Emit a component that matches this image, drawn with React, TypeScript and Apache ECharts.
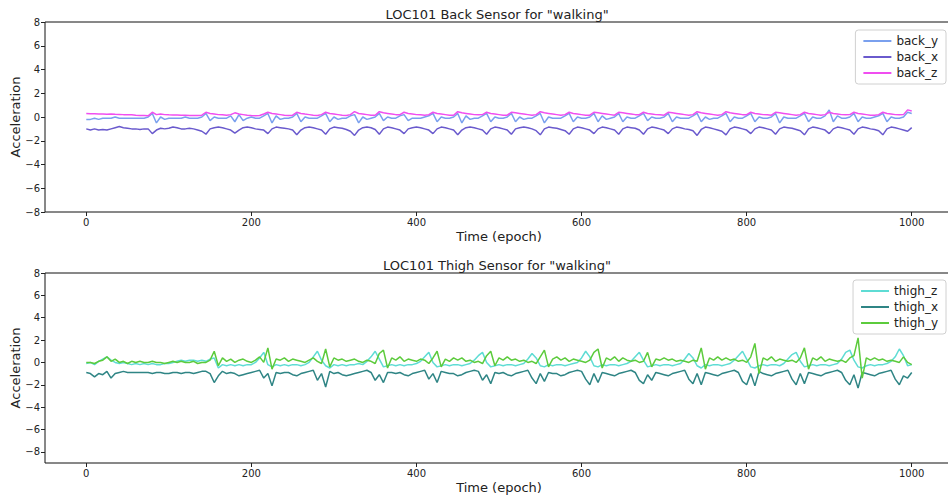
import React, { useEffect, useRef } from "react";
import * as echarts from "echarts";

const STEP = 5; // epochs between samples

const backY = [
  -0.2,-0.2,-0.1,-0.2,-0.1,-0.1,-0.1,0.0,-0.1,-0.1,-0.1,-0.1,-0.1,-0.1,-0.1,0.0,0.3,-0.5,0.0,-0.2,
  -0.1,-0.1,-0.1,-0.1,0.0,-0.1,-0.1,-0.1,0.0,0.3,-0.3,0.0,-0.1,-0.1,-0.1,0.1,-0.4,0.2,-0.3,-0.1,
  0.0,-0.1,-0.1,0.1,0.3,-0.5,0.1,-0.2,-0.1,-0.1,0.0,0.3,-0.4,0.0,-0.1,-0.1,-0.1,0.1,0.3,-0.4,
  0.0,-0.2,-0.1,-0.1,0.1,0.2,-0.5,0.0,-0.2,-0.1,0.0,0.3,-0.3,0.0,-0.1,-0.1,0.1,0.2,-0.3,-0.1,
  -0.1,-0.1,0.0,0.1,0.3,-0.4,0.0,-0.1,-0.1,0.0,0.3,-0.5,0.1,-0.2,-0.1,-0.1,0.1,0.3,-0.4,0.0,
  -0.1,-0.1,0.0,0.3,-0.4,0.0,-0.2,-0.1,-0.1,0.1,0.3,-0.5,0.0,-0.1,-0.1,-0.1,0.1,0.3,-0.4,0.0,
  -0.1,-0.1,0.0,0.3,-0.4,0.1,-0.2,-0.1,0.0,0.3,-0.4,0.0,-0.1,-0.1,0.1,0.3,-0.3,0.0,-0.1,-0.1,
  0.0,0.3,-0.4,0.0,-0.1,-0.1,-0.1,0.1,0.3,-0.4,0.0,-0.2,-0.1,-0.1,0.1,0.3,-0.4,0.0,-0.1,-0.1,
  0.1,0.3,-0.4,0.0,-0.1,-0.1,0.0,0.3,-0.5,0.0,-0.1,-0.1,-0.1,0.1,0.3,-0.4,0.0,-0.1,-0.1,0.1,
  0.6,-0.4,0.1,-0.1,-0.1,0.0,0.3,-0.4,0.0,-0.1,-0.1,0.0,0.1,0.3,-0.4,0.0,-0.1,-0.1,0.0,0.4,
  0.3,
];

const backX = [
  -1.0,-1.1,-1.0,-1.1,-1.05,-1.1,-1.0,-0.9,-0.8,-0.9,-0.95,-1.0,-1.0,-1.05,-1.0,-1.0,-1.4,-1.1,-0.95,-1.0,
  -0.95,-0.85,-0.9,-1.0,-1.0,-0.95,-1.0,-1.1,-1.2,-1.45,-1.0,-0.9,-0.85,-0.9,-1.0,-1.1,-1.35,-1.1,-0.9,-0.85,
  -0.9,-1.0,-1.05,-1.1,-1.4,-1.0,-0.85,-0.9,-0.95,-1.0,-1.1,-1.5,-1.1,-0.9,-0.85,-0.9,-1.0,-1.1,-1.45,-1.0,
  -0.85,-0.9,-0.95,-1.05,-1.2,-1.55,-1.1,-0.9,-0.85,-0.9,-1.05,-1.45,-1.0,-0.85,-0.9,-1.0,-1.1,-1.4,-1.0,-0.9,
  -0.85,-0.9,-1.0,-1.1,-1.4,-1.0,-0.85,-0.9,-1.0,-1.1,-1.5,-1.1,-0.9,-0.85,-0.9,-1.0,-1.1,-1.45,-1.0,-0.85,
  -0.9,-1.0,-1.1,-1.45,-1.0,-0.9,-0.85,-0.9,-1.0,-1.15,-1.5,-1.0,-0.85,-0.9,-0.95,-1.05,-1.15,-1.45,-1.0,-0.85,
  -0.9,-1.0,-1.1,-1.4,-1.0,-0.85,-0.9,-1.0,-1.1,-1.45,-1.0,-0.85,-0.9,-0.95,-1.1,-1.45,-1.0,-0.85,-0.9,-1.0,
  -1.1,-1.4,-1.0,-0.85,-0.9,-1.0,-1.05,-1.15,-1.55,-1.05,-0.85,-0.9,-1.0,-1.1,-1.2,-1.5,-1.0,-0.85,-0.9,-1.0,
  -1.1,-1.4,-1.0,-0.85,-0.9,-1.0,-1.1,-1.45,-1.0,-0.85,-0.9,-0.95,-1.05,-1.15,-1.5,-1.0,-0.85,-0.9,-1.0,-1.1,
  -1.4,-1.0,-0.85,-0.9,-1.0,-1.1,-1.45,-1.0,-0.85,-0.9,-1.0,-1.05,-1.15,-1.5,-1.0,-0.85,-0.9,-1.0,-1.1,-1.2,
  -0.9,
];

const backZ = [
  0.3,0.28,0.27,0.26,0.25,0.24,0.25,0.23,0.22,0.2,0.2,0.18,0.15,0.13,0.12,0.1,0.4,0.2,0.25,0.2,
  0.18,0.17,0.16,0.15,0.14,0.13,0.12,0.12,0.15,0.4,0.3,0.25,0.2,0.18,0.15,0.2,0.35,0.25,0.2,0.15,
  0.12,0.1,0.12,0.25,0.4,0.3,0.25,0.2,0.15,0.12,0.15,0.4,0.3,0.25,0.2,0.15,0.12,0.2,0.4,0.3,
  0.25,0.2,0.15,0.13,0.2,0.45,0.3,0.25,0.2,0.15,0.15,0.45,0.35,0.3,0.25,0.2,0.2,0.4,0.3,0.25,
  0.2,0.18,0.15,0.2,0.4,0.3,0.25,0.2,0.15,0.15,0.45,0.35,0.3,0.25,0.2,0.18,0.2,0.4,0.3,0.25,
  0.2,0.15,0.15,0.4,0.35,0.3,0.25,0.2,0.15,0.2,0.45,0.35,0.3,0.25,0.2,0.15,0.2,0.4,0.3,0.25,
  0.2,0.15,0.15,0.4,0.35,0.3,0.25,0.2,0.15,0.4,0.35,0.3,0.25,0.2,0.2,0.4,0.3,0.25,0.2,0.18,
  0.15,0.4,0.35,0.3,0.25,0.2,0.15,0.2,0.45,0.35,0.3,0.25,0.2,0.15,0.2,0.45,0.35,0.3,0.25,0.2,
  0.2,0.4,0.3,0.25,0.2,0.18,0.15,0.4,0.35,0.3,0.25,0.2,0.15,0.2,0.4,0.3,0.25,0.2,0.15,0.2,
  0.4,0.3,0.25,0.2,0.18,0.2,0.4,0.3,0.25,0.2,0.15,0.15,0.2,0.4,0.3,0.25,0.2,0.18,0.2,0.6,
  0.5,
];

const thighZ = [
  -0.1,0.0,-0.2,0.1,0.3,0.5,0.2,0.0,-0.1,0.0,-0.1,-0.2,-0.1,-0.2,-0.1,-0.2,-0.1,-0.2,-0.2,-0.1,
  -0.1,0.0,0.1,0.2,0.1,0.2,0.2,0.1,0.2,0.1,0.3,0.4,-0.5,-0.2,-0.3,-0.2,-0.3,-0.2,-0.3,-0.2,
  -0.2,0.0,0.4,0.9,-0.2,-0.4,-0.2,-0.3,-0.2,-0.3,-0.2,-0.2,-0.3,-0.2,0.0,0.5,1.0,0.2,-0.3,-0.5,
  -0.2,-0.3,-0.2,-0.3,-0.2,-0.2,-0.1,-0.2,0.1,0.5,1.0,0.3,-0.4,-0.3,-0.2,-0.3,-0.2,-0.3,-0.2,-0.2,
  -0.1,0.1,0.5,0.9,0.0,-0.4,-0.3,-0.2,-0.3,-0.2,-0.2,-0.3,-0.2,-0.1,0.2,0.6,0.9,0.0,-0.4,-0.3,
  -0.2,-0.3,-0.2,-0.2,-0.3,-0.2,-0.1,0.3,0.8,0.4,-0.3,-0.4,-0.2,-0.3,-0.2,-0.2,-0.3,-0.2,-0.1,0.0,
  0.4,1.0,0.5,-0.3,-0.4,-0.2,-0.3,-0.2,-0.2,-0.3,-0.2,-0.1,0.1,0.5,0.9,0.2,-0.4,-0.3,-0.2,-0.3,
  -0.2,-0.2,-0.3,-0.2,-0.1,0.3,0.8,0.4,-0.3,-0.5,-0.2,-0.3,-0.2,-0.2,-0.3,-0.2,-0.1,0.2,0.6,1.0,
  0.3,-0.4,-0.5,-0.3,-0.2,-0.3,-0.2,-0.2,-0.3,-0.1,0.3,0.7,0.9,0.1,-0.4,-0.3,-0.2,-0.3,-0.2,-0.2,
  -0.3,-0.2,-0.1,0.3,0.9,1.1,0.2,-0.4,-0.5,-0.3,-0.2,-0.3,-0.2,-0.2,-0.1,0.1,0.5,1.2,0.6,-0.3,
  -0.2,
];

const thighX = [
  -0.9,-1.0,-1.3,-1.0,-1.1,-0.8,-1.4,-1.0,-0.9,-0.8,-0.9,-0.9,-0.9,-0.9,-0.9,-0.9,-1.0,-0.9,-0.9,-1.0,
  -1.0,-0.9,-0.9,-1.0,-0.9,-0.9,-1.0,-0.9,-0.8,-0.8,-1.0,-1.8,-1.2,-0.8,-1.0,-0.9,-1.0,-1.2,-1.1,-1.0,
  -0.9,-0.8,-0.7,-1.4,-1.0,-2.1,-0.9,-1.0,-0.9,-0.9,-1.1,-1.2,-1.0,-0.9,-0.8,-0.7,-1.6,-1.0,-2.2,-0.8,
  -1.0,-0.9,-1.1,-1.2,-1.1,-1.0,-0.9,-0.8,-0.7,-0.9,-1.6,-1.1,-1.8,-0.9,-0.9,-1.0,-0.9,-1.1,-1.2,-1.0,
  -0.9,-0.8,-0.7,-1.5,-1.0,-1.8,-0.8,-0.9,-1.0,-1.0,-1.2,-1.1,-0.9,-0.8,-0.7,-0.8,-1.6,-1.1,-1.9,-0.9,
  -1.0,-0.9,-1.1,-1.2,-1.0,-0.9,-0.8,-0.7,-1.4,-1.9,-1.0,-1.7,-0.9,-1.0,-1.0,-1.2,-1.1,-0.9,-0.8,-0.7,
  -0.8,-1.5,-2.0,-1.0,-1.8,-0.9,-1.0,-1.1,-1.2,-1.0,-0.9,-0.8,-0.7,-0.9,-1.6,-1.9,-1.1,-1.6,-0.9,-1.0,
  -1.1,-1.2,-1.0,-0.9,-0.8,-0.7,-1.5,-1.9,-1.0,-2.0,-0.9,-1.0,-1.1,-1.2,-1.0,-0.9,-0.8,-0.7,-0.9,-1.7,
  -2.0,-1.0,-2.1,-0.8,-1.0,-1.1,-1.2,-1.0,-0.9,-0.8,-0.7,-1.5,-2.0,-1.0,-1.9,-0.9,-1.0,-1.1,-1.2,-1.0,
  -0.9,-0.8,-0.7,-0.9,-1.6,-2.0,-1.1,-2.3,-0.9,-1.0,-1.1,-1.2,-1.0,-0.9,-0.8,-0.7,-1.5,-2.0,-1.2,-1.4,
  -0.9,
];

const thighY = [
  0.0,0.0,-0.1,0.1,0.2,0.5,0.1,0.3,0.0,0.1,-0.1,0.1,0.0,0.1,0.0,0.0,0.1,0.0,0.0,-0.1,
  0.0,0.1,0.0,0.1,0.0,0.0,0.1,-0.1,0.0,0.0,0.2,1.0,-0.3,0.4,0.1,0.3,0.0,0.2,0.3,0.1,
  0.0,0.2,0.5,0.0,1.3,-0.6,0.3,0.2,0.4,0.1,0.3,0.2,0.1,0.0,0.2,0.4,0.1,-0.1,1.2,-0.4,
  0.4,0.2,0.3,0.1,0.2,0.3,0.1,0.0,0.2,0.1,-0.1,0.8,1.1,-0.5,0.4,0.2,0.5,0.1,0.3,0.2,
  0.1,0.3,0.2,-0.1,0.4,1.0,-0.4,0.3,0.1,0.4,0.2,0.4,0.1,0.2,0.0,0.1,-0.1,0.6,1.0,-0.3,
  0.4,0.2,0.5,0.2,0.3,0.1,0.2,0.0,0.1,-0.1,0.5,1.1,-0.4,0.3,0.5,0.2,0.4,0.1,0.3,0.2,
  0.1,0.0,0.2,0.9,1.2,-0.5,0.4,0.2,0.5,0.1,0.4,0.2,0.1,0.2,0.0,0.1,0.9,-0.4,0.3,0.2,
  0.4,0.2,0.3,0.1,0.2,0.1,0.0,0.2,0.1,1.3,-0.6,0.4,0.2,0.5,0.2,0.4,0.2,0.3,0.1,0.2,
  0.0,0.5,1.7,-1.0,0.4,0.2,0.5,0.1,0.3,0.2,0.1,0.2,0.0,0.4,1.3,-0.6,0.4,0.2,0.5,0.1,
  0.3,0.2,0.1,0.2,0.0,0.4,0.6,2.2,-1.4,0.4,0.2,0.4,0.2,0.3,0.1,0.2,0.1,0.0,0.5,0.0,
  -0.2,
];

const xTicks = [0, 200, 400, 600, 800, 1000];
const yTicks = [-8, -6, -4, -2, 0, 2, 4, 6, 8];

const topSeries = [
  { name: "back_y", values: backY, color: "#7aa0ee" },
  { name: "back_x", values: backX, color: "#6a5acd" },
  { name: "back_z", values: backZ, color: "#f04ef0" },
];
const bottomSeries = [
  { name: "thigh_z", values: thighZ, color: "#5edcd4" },
  { name: "thigh_x", values: thighX, color: "#2f8585" },
  { name: "thigh_y", values: thighY, color: "#5ccb3c" },
];

const FONT = "DejaVu Sans";

export default function App() {
  const ref = useRef<HTMLDivElement>(null);
  useEffect(() => {
    document.body.style.margin = "0";
    if (!ref.current) return;
    const chart = echarts.init(ref.current, undefined, { renderer: "svg" });

    const GRID_LEFT = 45;
    const GRID_W = 908;
    const grids = [
      { left: GRID_LEFT, top: 22, width: GRID_W, height: 190 },
      { left: GRID_LEFT, top: 273, width: GRID_W, height: 190 },
    ];
    const yRanges = [
      [-8, 8],
      [-9, 8],
    ];

    const mkX = (i: number) => ({
      type: "value",
      gridIndex: i,
      min: -50,
      max: 1050,
      name: "Time (epoch)",
      nameLocation: "middle",
      nameGap: 18,
      nameMoveOverlap: false,
      nameTextStyle: { fontFamily: FONT, fontSize: 13, color: "#222" },
      axisLine: { show: false, onZero: false },
      axisTick: { show: true, inside: false, length: 4, customValues: xTicks, lineStyle: { color: "#222" } },
      axisLabel: {
        customValues: xTicks,
        formatter: (v: number) => String(v),
        fontFamily: FONT,
        fontSize: 10,
        color: "#222",
        margin: 5,
      },
      splitLine: { show: false },
    });
    const mkY = (i: number) => ({
      type: "value",
      gridIndex: i,
      min: yRanges[i][0],
      max: yRanges[i][1],
      name: "Acceleration",
      nameLocation: "middle",
      nameGap: 23,
      nameMoveOverlap: false,
      nameTextStyle: { fontFamily: FONT, fontSize: 13, color: "#222" },
      axisLine: { show: false, onZero: false },
      axisTick: { show: true, inside: false, length: 4, customValues: yTicks, lineStyle: { color: "#222" } },
      axisLabel: {
        customValues: yTicks,
        formatter: (v: number) => (v < 0 ? "\u2212" + Math.abs(v) : String(v)),
        fontFamily: FONT,
        fontSize: 10,
        color: "#222",
        margin: 5,
      },
      splitLine: { show: false },
    });

    const mkSeries = (defs: typeof topSeries, idx: number) =>
      defs.map((d) => ({
        name: d.name,
        type: "line",
        xAxisIndex: idx,
        yAxisIndex: idx,
        showSymbol: false,
        symbol: "none",
        lineStyle: { width: 1.5, color: d.color },
        itemStyle: { color: d.color },
        data: d.values.map((v, k) => [k * STEP, v]),
      }));

    const mkLegend = (defs: typeof topSeries, top: number) => ({
      orient: "vertical",
      right: 2,
      top,
      data: defs.map((d) => d.name),
      icon: "rect",
      itemWidth: 28,
      itemHeight: 2,
      itemGap: 4,
      padding: [5, 8, 5, 8],
      backgroundColor: "#fff",
      borderColor: "#d0d0d0",
      borderWidth: 1,
      borderRadius: 3,
      textStyle: { fontFamily: FONT, fontSize: 12, color: "#222", lineHeight: 12 },
    });

    chart.setOption({
      animation: false,
      backgroundColor: "#fff",
      grid: grids.map((g) => ({
        ...g,
        outerBoundsMode: "none",
        containLabel: false,
        show: true,
        borderColor: "#111",
        borderWidth: 1,
        backgroundColor: "transparent",
      })),
      xAxis: [mkX(0), mkX(1)],
      yAxis: [mkY(0), mkY(1)],
      legend: [mkLegend(topSeries, 30), mkLegend(bottomSeries, 280)],
      series: [...mkSeries(topSeries, 0), ...mkSeries(bottomSeries, 1)],
      graphic: [
        {
          type: "text",
          x: GRID_LEFT + GRID_W / 2 - 2,
          y: 14,
          style: { text: 'LOC101 Back Sensor for "walking"', fontFamily: FONT, fontSize: 13, fill: "#222", textAlign: "center", textVerticalAlign: "middle" },
        },
        {
          type: "text",
          x: GRID_LEFT + GRID_W / 2 - 2,
          y: 265,
          style: { text: 'LOC101 Thigh Sensor for "walking"', fontFamily: FONT, fontSize: 13, fill: "#222", textAlign: "center", textVerticalAlign: "middle" },
        },
      ],
    });
    return () => chart.dispose();
  }, []);
  return <div ref={ref} style={{ width: 948, height: 496 }} />;
}
